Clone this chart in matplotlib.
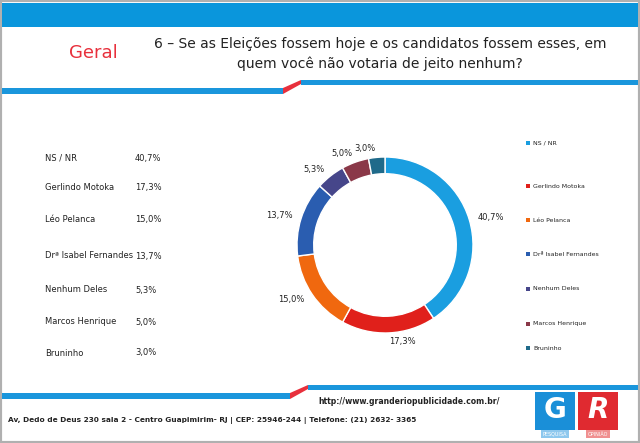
import matplotlib.pyplot as plt
from matplotlib.patches import Rectangle, Polygon

# --- Data ---
names = ["NS / NR", "Gerlindo Motoka", "Léo Pelanca", "Drª Isabel Fernandes",
         "Nenhum Deles", "Marcos Henrique", "Bruninho"]
values = [40.7, 17.3, 15.0, 13.7, 5.3, 5.0, 3.0]
colors = ["#1a9ee0", "#e0201b", "#f0680f", "#2a5db0", "#46468a", "#8a3848", "#1f6a8a"]

W, H = 640, 443
fig = plt.figure(figsize=(W / 100, H / 100), dpi=100)
bg = fig.add_axes([0, 0, 1, 1])
bg.set_xlim(0, W)
bg.set_ylim(H, 0)
bg.axis("off")

BLUE = "#1a96dc"
RED = "#e8303c"

# frame + header bar
bg.add_patch(Rectangle((0, 0), W, H, facecolor="white", edgecolor="#b0b0b0", lw=3))
bg.add_patch(Rectangle((2, 3), W - 4, 24, facecolor="#0a96dc", lw=0))

def stripe(y_left, y_right, split):
    bg.add_patch(Rectangle((2, y_left), split - 2, 6, facecolor=BLUE, lw=0))
    bg.add_patch(Polygon([(split, y_left), (split + 18, y_right), (split + 18, y_right + 4), (split, y_left + 6)],
                         facecolor=RED, lw=0))
    bg.add_patch(Rectangle((split + 18, y_right), W - split - 20, 5, facecolor=BLUE, lw=0))

stripe(88, 80, 283)
stripe(393, 385, 290)

bg.text(93, 53, "Geral", color=RED, fontsize=13, ha="center", va="center")
bg.text(380, 44, "6 – Se as Eleições fossem hoje e os candidatos fossem esses, em",
        fontsize=10, ha="center", va="center", color="#222")
bg.text(380, 64, "quem você não votaria de jeito nenhum?",
        fontsize=10, ha="center", va="center", color="#222")

# left table
table_y = [158, 187, 219, 256, 290, 322, 353]
for n, v, y in zip(names, values, table_y):
    bg.text(45, y, n, fontsize=6, va="center", color="#222")
    bg.text(135, y, f"{v:.1f}%".replace(".", ","), fontsize=6, va="center", color="#222")

# legend
leg_y = [143, 186, 220, 254, 289, 324, 348]
for n, c, y in zip(names, colors, leg_y):
    bg.add_patch(Rectangle((526, y - 2), 4, 4, facecolor=c, lw=0))
    bg.text(533, y, n, fontsize=4.5, va="center", color="#222")

# footer
bg.text(500, 402, "http://www.granderiopublicidade.com.br/", fontsize=5.6, ha="right",
        va="center", fontweight="bold", color="#222")
bg.text(8, 420, "Av, Dedo de Deus 230 sala 2 - Centro Guapimirim- RJ | CEP: 25946-244 | Telefone: (21) 2632- 3365",
        fontsize=5.3, va="center", fontweight="bold", color="#222")
bg.add_patch(Rectangle((535, 392), 40, 38, facecolor="#1a8fd8", lw=0))
bg.add_patch(Rectangle((578, 392), 40, 38, facecolor="#e02a30", lw=0))
bg.text(555, 410, "G", fontsize=20, fontweight="bold", color="white", ha="center", va="center")
bg.text(598, 410, "R", fontsize=20, fontweight="bold", fontstyle="italic", color="white", ha="center", va="center")
bg.text(555, 434, "PESQUISA", fontsize=3.5, color="white", ha="center", va="center",
        bbox=dict(facecolor="#8ec8ee", lw=0, pad=1))
bg.text(598, 434, "OPINIÃO", fontsize=3.5, color="white", ha="center", va="center",
        bbox=dict(facecolor="#f09090", lw=0, pad=1))

# donut
cx, cy, r = 385, 245, 110
ax = fig.add_axes([(cx - r) / W, (H - cy - r) / H, 2 * r / W, 2 * r / H])
labels = [f"{v:.1f}%".replace(".", ",") for v in values]
ax.pie(values, colors=colors, startangle=90, counterclock=False, labels=labels,
       labeldistance=1.1, textprops=dict(fontsize=6, color="#222"),
       wedgeprops=dict(width=0.19, edgecolor="white", linewidth=1))
ax.set_aspect("equal")

fig.savefig("out.png", dpi=100)
